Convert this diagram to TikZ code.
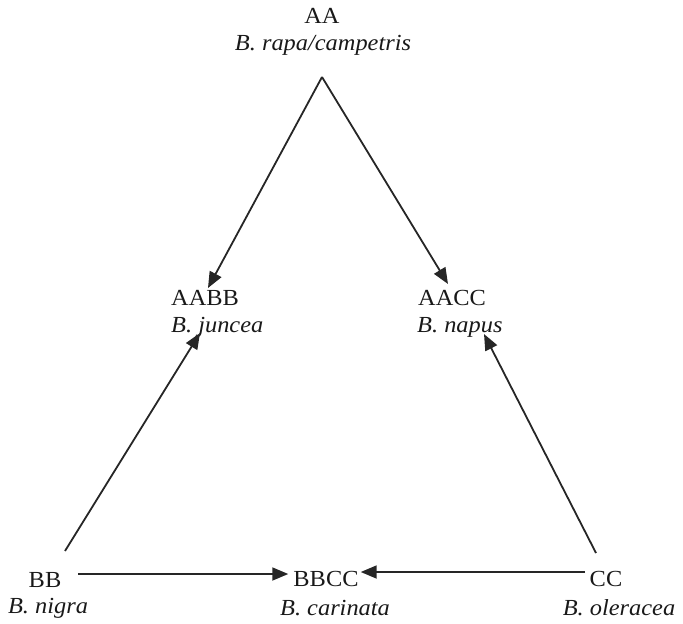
\documentclass[tikz,border=0pt]{standalone}
\usepackage{fontspec}
\setmainfont[FakeStretch=1.06]{Liberation Serif}
\usetikzlibrary{arrows.meta}
\begin{document}
\begin{tikzpicture}[x=1pt,y=-1pt,
  lab/.style={font=\fontsize{23}{27}\selectfont, inner sep=0pt, text=black!90},
  sp/.style={lab, font=\fontsize{23}{27}\selectfont\itshape},
  arr/.style={line width=1.8pt, draw=black!85, -{Triangle[length=16pt,width=13pt]}}]
\useasboundingbox (0,0) rectangle (683,624);
% labels
\node[lab] (aa) at (322,16) {AA};
\node[sp] (aan) at (323,45) {B. rapa/campetris};
\node[lab, anchor=west] (aabb) at (171,298) {AABB};
\node[sp, anchor=west] (aabbn) at (171,327) {B. juncea};
\node[lab, anchor=west] (aacc) at (418,298) {AACC};
\node[sp, anchor=west] (aaccn) at (417,327) {B. napus};
\node[lab] (bb) at (45,580) {BB};
\node[sp] (bbn) at (48,608) {B. nigra};
\node[lab] (bbcc) at (326,579) {BBCC};
\node[sp] (bbccn) at (335,608) {B. carinata};
\node[lab] (cc) at (606,579) {CC};
\node[sp] (ccn) at (619,608) {B. oleracea};
% arrow end points
\coordinate (apex) at (322,77);
\coordinate (toAABB) at (208,288);
\coordinate (toAACC) at (448,284);
\coordinate (fromBB) at (65,551);
\coordinate (upAABB) at (200,333);
\coordinate (fromCC) at (596,553);
\coordinate (upAACC) at (484,334);
\coordinate (bbR) at (78,574);
\coordinate (ccL) at (585,572);
% arrows
\draw[arr] (apex) -- (toAABB);
\draw[arr] (apex) -- (toAACC);
\draw[arr] (fromBB) -- (upAABB);
\draw[arr] (fromCC) -- (upAACC);
\draw[arr] (bbR) -- ([xshift=-5pt]bbR -| bbcc.west);
\draw[arr] (ccL) -- ([xshift=2pt]ccL -| bbcc.east);
\end{tikzpicture}
\end{document}
